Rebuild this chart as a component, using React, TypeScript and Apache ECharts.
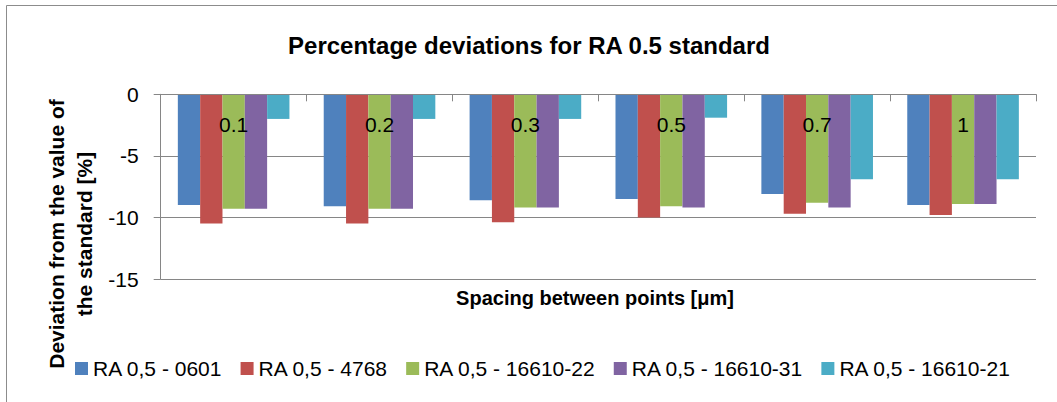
import React, { useEffect, useRef } from "react";
import * as echarts from "echarts";

const categories = ["0.1", "0.2", "0.3", "0.5", "0.7", "1"];
const seriesNames = [
  "RA 0,5 - 0601",
  "RA 0,5 - 4768",
  "RA 0,5 - 16610-22",
  "RA 0,5 - 16610-31",
  "RA 0,5 - 16610-21",
];
const s0601 = [-9.0, -9.1, -8.6, -8.5, -8.1, -9.0];
const s4768 = [-10.5, -10.5, -10.4, -10.0, -9.7, -9.8];
const s16610_22 = [-9.3, -9.3, -9.2, -9.1, -8.8, -8.9];
const s16610_31 = [-9.3, -9.3, -9.2, -9.2, -9.2, -8.9];
const s16610_21 = [-2.0, -2.0, -2.0, -1.9, -6.9, -6.9];
const colors = ["#4F81BD", "#C0504D", "#9BBB59", "#8064A2", "#4BACC6"];
const title = "Percentage deviations for RA 0.5 standard";
const xName = "Spacing between points [μm]";
const yName = "Deviation from the value of\nthe standard [%]";

const FONT = "'Liberation Sans', Arial, sans-serif";

export default function App() {
  const ref = useRef<HTMLDivElement>(null);
  useEffect(() => {
    if (!ref.current) return;
    const chart = echarts.init(ref.current, undefined, { renderer: "svg" });
    const data = [s0601, s4768, s16610_22, s16610_31, s16610_21];
    chart.setOption({
      animation: false,
      backgroundColor: "#ffffff",
      textStyle: { fontFamily: FONT },
      color: colors,
      grid: { left: 160.7, right: 21, top: 94.3, bottom: 123 },
      legend: {
        left: 70,
        top: 353,
        itemWidth: 13,
        itemHeight: 13,
        itemGap: 18,
        icon: "rect",
        textStyle: { fontSize: 21, color: "#000", fontFamily: FONT },
        data: seriesNames,
      },
      xAxis: {
        type: "category",
        data: categories,
        position: "top",
        z: 10,
        axisLine: { onZero: false, lineStyle: { color: "#868686", width: 1 } },
        axisTick: { show: true, inside: true, length: 7, lineStyle: { color: "#868686" } },
        axisLabel: { inside: true, fontSize: 21, color: "#000", margin: 20, fontFamily: FONT },
      },
      yAxis: {
        type: "value",
        min: -15,
        max: 0,
        interval: 5,
        axisLine: { show: true, lineStyle: { color: "#868686", width: 1 } },
        axisTick: { show: true, length: 7, lineStyle: { color: "#868686" } },
        splitLine: { show: true, lineStyle: { color: "#868686", width: 1 } },
        axisLabel: { fontSize: 21, color: "#000", margin: 22, fontFamily: FONT },
      },
      series: seriesNames.map((name, i) => ({
        name,
        type: "bar",
        data: data[i],
        barGap: "0%",
        barCategoryGap: "23.5%",
        itemStyle: { color: colors[i] },
      })),
      graphic: [
        {
          type: "rect",
          silent: true,
          shape: { x: 6.5, y: 5.5, width: 1200, height: 600 },
          style: { fill: "none", stroke: "#8c8c8c", lineWidth: 1 },
        },
        {
          type: "text",
          x: 529,
          y: 45,
          style: {
            text: title,
            fontSize: 24,
            fontWeight: "bold",
            fontFamily: FONT,
            fill: "#000",
            align: "center",
            verticalAlign: "middle",
          },
        },
        {
          type: "text",
          x: 595,
          y: 298,
          style: {
            text: xName,
            fontSize: 20,
            fontWeight: "bold",
            fontFamily: FONT,
            fill: "#000",
            align: "center",
            verticalAlign: "middle",
          },
        },
        {
          type: "text",
          x: 70,
          y: 234,
          rotation: Math.PI / 2,
          style: {
            text: yName,
            fontSize: 21,
            fontWeight: "bold",
            fontFamily: FONT,
            fill: "#000",
            align: "center",
            verticalAlign: "middle",
            lineHeight: 28,
          },
        },
      ],
    });
    return () => chart.dispose();
  }, []);
  return (
    <div
      ref={ref}
      style={{ position: "absolute", left: 0, top: 0, width: 1057, height: 402 }}
    />
  );
}
